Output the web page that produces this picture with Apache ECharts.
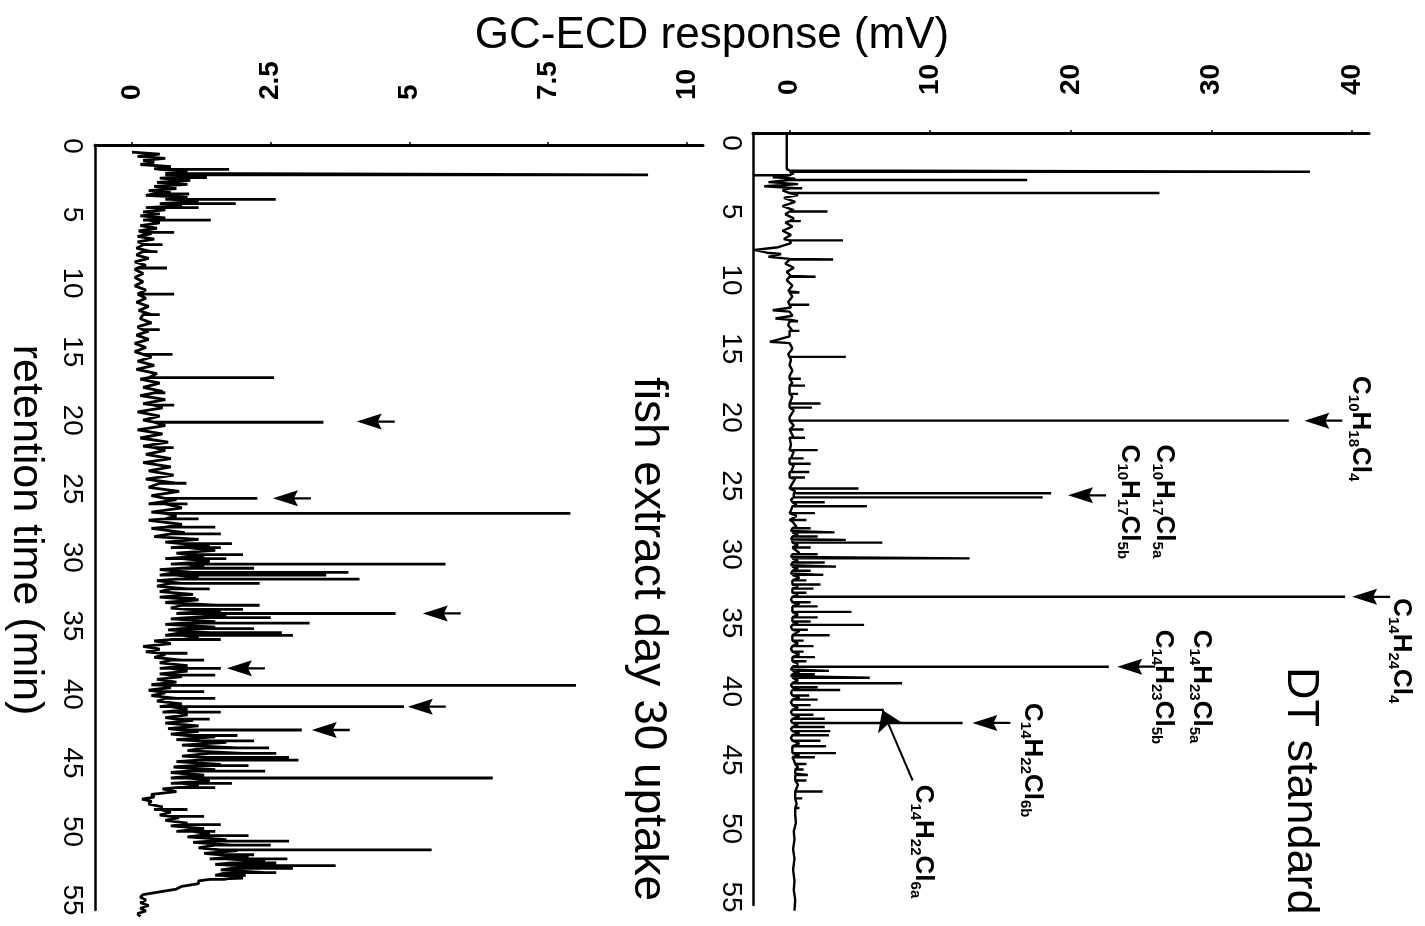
<!DOCTYPE html>
<html><head><meta charset="utf-8">
<script src="https://cdn.jsdelivr.net/npm/echarts@6/dist/echarts.min.js"></script>
<style>html,body{margin:0;padding:0;background:#fff}#c{width:1425px;height:926px}</style>
</head><body><div id="c"></div>
<script>
// ---------- data ----------
const timeTicks = [0, 5, 10, 15, 20, 25, 30, 35, 40, 45, 50, 55];
const dtTicks = [0, 10, 20, 30, 40];
const fishTicks = [0, 2.5, 5, 7.5, 10];

// DT standard: baseline [time, mV]
const dtBaseline = [
 [-0.7,-0.2],[1.9,-0.2],[2.0,0.0],[2.2,0.3],[2.5,-1.2],[2.6,0.4],[2.85,-1.5],[3.0,0.6],[3.15,-1.8],[3.3,0.5],[3.45,-0.5],
 [3.8,0.6],[4.0,-0.4],[4.3,0.4],[4.6,-0.5],[4.9,0.3],[5.2,-0.3],[5.5,0.3],[5.8,-0.3],[6.1,0.2],[6.4,-0.5],[6.7,0.1],
 [7.0,-0.4],[7.3,0.1],[7.6,-0.8],[7.8,-2.5],[8.0,-1.6],[8.1,-0.6],[8.3,-1.5],[8.45,0.0],[8.8,-0.3],[9.1,0.3],[9.4,-0.2],
 [9.7,0.1],[10.0,-0.2],[10.4,0.2],[10.8,-0.1],[11.2,0.2],[11.6,-0.1],[12.0,0.1],[12.2,-1.2],[12.3,0.0],[12.6,0.2],
 [12.8,-1.0],[12.9,0.1],[13.3,-0.1],[13.7,0.2],[14.1,0.0],[14.5,-1.4],[14.6,0.0],[15.0,0.2],[15.4,-0.1],[15.8,0.1],
 [16.2,0.0],[16.6,0.2],[17.0,0.0],[17.5,0.2],[18.0,0.0],[18.5,0.2],[19.0,0.0],[19.5,0.3],[20.0,0.0],[20.6,0.3],[21.0,0.0],
 [21.5,0.3],[22.0,0.1],[22.5,0.3],[23.0,0.1],[23.5,0.3],[24.0,0.1],[24.5,0.4],[25.0,0.1],[25.4,0.4],[26.0,0.1],[26.4,0.5],
 [26.8,0.1],[27.2,0.5],[27.6,0.2],[28.0,0.5],[28.3,0.1],[28.6,0.6],[28.9,0.1],[29.3,0.6],[29.6,0.1],[29.9,0.7],[30.2,0.1],
 [30.5,0.6],[30.8,0.1],[31.1,0.6],[31.4,0.1],[31.7,0.7],[32.0,0.1],[32.3,0.6],[32.6,0.1],[32.9,0.6],[33.3,0.1],[33.6,0.7],
 [33.9,0.1],[34.4,0.6],[34.7,0.1],[35.0,0.6],[35.3,0.1],[35.6,0.7],[36.0,0.1],[36.5,0.6],[36.9,0.1],[37.3,0.7],[37.6,0.1],
 [38.0,0.6],[38.4,0.1],[38.6,0.7],[38.9,0.1],[39.2,0.6],[39.55,0.1],[39.8,0.7],[40.1,0.1],[40.45,0.7],[40.8,0.1],[41.2,0.6],
 [41.5,0.1],[41.85,0.7],[42.15,0.1],[42.45,0.6],[42.75,0.1],[43.05,0.7],[43.4,0.1],[43.8,0.7],[44.2,0.2],[44.65,0.7],
 [45.0,0.3],[45.5,0.6],[46.0,0.4],[46.8,0.6],[47.5,0.4],[48.2,0.5],[49.0,0.4],[49.6,0.45],[50.2,0.3],[50.8,0.35],
 [51.5,0.25],[52.2,0.35],[53.0,0.25],[53.8,0.35],[54.5,0.3],[55.2,0.4],[56.0,0.35]
];
// DT standard: peaks [time, base mV, top mV]
const dtPeaks = [
 [2.1,0,37.0],[2.35,0,-2.6],[2.7,0,16.9],[3.3,0,0.9],[3.65,0,26.3],[5.0,0,2.7],[5.7,0,0.8],[7.1,0,3.8],[8.5,0,3.1],
 [9.75,0,1.85],[10.9,0,0.7],[11.8,0,1.4],[13.0,0,0.6],[13.7,0,0.7],[15.6,0,4.0],[17.2,0,0.8],[17.7,0,1.1],[18.3,0,0.6],
 [19.0,0,2.2],[19.3,0,1.6],[20.25,0,35.5],[20.9,0,1.0],[21.5,0,1.1],[22.4,0,2.0],[23.0,0,1.0],[23.4,0,1.5],[24.0,0,1.4],
 [24.4,0,1.1],[25.2,0,4.9],[25.55,0.3,18.6],[25.85,0.3,18.0],[26.2,0.2,2.5],[26.5,0.2,5.5],[27.0,0,1.8],[27.5,0,1.2],
 [28.1,0.2,1.5],[28.4,0.2,3.2],[28.7,0.2,2.0],[28.95,0.2,4.0],[29.15,0.2,6.6],[29.5,0.2,1.5],[30.0,0.2,2.0],[30.3,0.2,12.8],
 [30.6,0.2,2.5],[30.9,0.2,3.3],[31.2,0.2,1.5],[31.5,0.2,2.4],[31.9,0.2,1.2],[32.2,0.2,2.2],[32.5,0.2,1.7],[32.8,0.2,1.2],
 [33.1,0.2,39.5],[33.5,0.2,1.5],[33.8,0.2,2.0],[34.2,0.2,4.4],[34.6,0.2,2.0],[34.9,0.2,1.5],[35.15,0.2,5.3],[35.5,0.2,1.3],
 [35.9,0.2,2.85],[36.3,0.2,1.0],[36.7,0.2,1.7],[37.1,0.2,1.0],[37.5,0.2,1.8],[37.8,0.2,1.2],[38.2,0.2,22.7],[38.5,0.2,2.8],
 [38.75,0.2,1.8],[39.0,0.2,5.7],[39.4,0.2,8.0],[39.7,0.2,2.0],[39.9,0.2,3.6],[40.3,0.2,1.4],[40.6,0.2,2.0],[41.0,0.2,1.5],
 [41.35,0.2,6.7],[41.7,0.2,1.7],[42.0,0.2,2.5],[42.3,0.2,12.3],[42.6,0.2,2.5],[42.9,0.2,2.9],[43.2,0.2,2.8],[43.6,0.2,2.2],
 [44.0,0.2,2.6],[44.5,0.2,3.3],[44.8,0.2,1.8],[45.3,0.4,1.2],[45.7,0.4,1.0],[46.1,0.4,1.3],[46.5,0.4,1.2],[47.3,0.4,2.35],
 [47.8,0.4,0.9],[48.5,0.4,0.7]
];

// fish extract: baseline [time, mV]
const fishBaseline = [
 [0.45,0.0],[0.6,0.5],[0.75,0.1],[0.9,0.6],[1.05,0.2],[1.2,0.4],[1.35,0.15],[1.5,0.7],[1.65,0.4],[1.85,1.0],[2.0,0.6],
 [2.15,1.1],[2.35,0.5],[2.5,1.05],[2.65,0.45],[2.8,1.0],[2.95,0.4],[3.1,0.8],[3.25,0.3],[3.4,0.7],[3.6,0.25],[3.75,1.0],
 [3.9,0.6],[4.05,1.2],[4.2,0.5],[4.35,0.9],[4.5,0.25],[4.65,0.6],[4.8,0.2],[4.95,0.5],[5.1,0.15],[5.25,0.6],[5.4,0.2],
 [5.6,0.5],[5.8,0.15],[6.0,0.45],[6.2,0.12],[6.4,0.35],[6.6,0.1],[6.8,0.4],[7.0,0.1],[7.2,0.3],[7.45,0.08],[7.7,0.35],
 [7.95,0.08],[8.2,0.3],[8.45,0.05],[8.7,0.25],[9.0,0.05],[9.3,0.2],[9.6,0.05],[9.9,0.2],[10.2,0.05],[10.5,0.25],[10.8,0.1],
 [11.1,0.25],[11.4,0.08],[11.7,0.3],[12.0,0.12],[12.3,0.35],[12.6,0.15],[12.9,0.35],[13.2,0.1],[13.5,0.3],[13.8,0.08],
 [14.1,0.3],[14.4,0.05],[14.7,0.25],[15.0,0.05],[15.4,0.35],[15.7,0.1],[16.0,0.4],[16.3,0.08],[16.6,0.45],[17.0,0.15],
 [17.3,0.5],[17.6,0.2],[17.9,0.55],[18.2,0.15],[18.5,0.6],[18.8,0.2],[19.1,0.55],[19.4,0.1],[19.7,0.5],[20.0,0.2],[20.4,0.6],
 [20.7,0.1],[21.0,0.55],[21.3,0.15],[21.6,0.65],[21.9,0.2],[22.2,0.6],[22.5,0.25],[22.8,0.7],[23.1,0.2],[23.4,0.7],[23.7,0.3],
 [24.0,0.75],[24.3,0.25],[24.6,0.8],[24.9,0.3],[25.2,0.85],[25.5,0.35],[25.8,0.8],[26.1,0.3],[26.4,0.9],[26.7,0.35],[27.0,0.8],
 [27.3,0.3],[27.6,0.9],[27.9,0.35],[28.2,0.95],[28.5,0.4],[28.7,1.2],[28.9,0.6],[29.1,1.4],[29.3,0.7],[29.5,1.5],[29.7,0.8],
 [29.9,1.3],[30.1,0.6],[30.3,1.4],[30.5,0.7],[30.7,1.3],[30.9,0.5],[31.1,1.1],[31.3,0.5],[31.5,1.2],[31.7,0.45],[31.9,0.9],
 [32.1,0.45],[32.3,1.0],[32.5,0.5],[32.7,1.1],[32.9,0.5],[33.1,1.2],[33.3,0.6],[33.5,1.5],[33.7,0.7],[33.9,1.6],[34.1,0.8],
 [34.3,1.7],[34.5,0.7],[34.7,1.5],[34.9,0.6],[35.1,1.5],[35.3,0.65],[35.5,1.4],[35.7,0.6],[35.9,1.2],[36.1,0.4],[36.3,0.7],
 [36.5,0.2],[36.7,0.5],[36.9,0.25],[37.1,0.6],[37.3,0.4],[37.5,0.9],[37.7,0.5],[37.9,1.0],[38.1,0.5],[38.3,1.0],[38.5,0.5],
 [38.7,0.9],[38.9,0.45],[39.1,0.8],[39.3,0.35],[39.5,0.7],[39.7,0.3],[39.9,0.6],[40.1,0.35],[40.3,0.8],[40.5,0.45],[40.7,0.9],
 [40.9,0.5],[41.1,1.0],[41.3,0.55],[41.5,1.0],[41.7,0.6],[41.9,1.1],[42.1,0.6],[42.3,1.2],[42.5,0.65],[42.7,1.2],[42.9,0.7],
 [43.1,1.5],[43.3,0.8],[43.5,1.7],[43.7,0.9],[43.9,1.9],[44.1,1.0],[44.3,2.0],[44.5,0.9],[44.7,1.8],[44.9,0.8],[45.1,1.6],
 [45.3,0.75],[45.5,1.5],[45.7,0.7],[45.9,1.3],[46.1,0.7],[46.3,1.4],[46.5,0.7],[46.7,1.2],[46.9,0.55],[47.1,0.8],[47.3,0.35],
 [47.5,0.4],[47.65,0.18],[47.8,0.35],[48.0,0.3],[48.2,0.55],[48.4,0.4],[48.6,0.7],[48.8,0.5],[49.0,0.85],[49.2,0.6],[49.4,1.0],
 [49.6,0.7],[49.8,1.3],[50.0,0.8],[50.2,1.4],[50.4,1.0],[50.6,1.7],[50.8,1.1],[51.0,1.8],[51.2,1.2],[51.4,1.9],[51.6,1.3],
 [51.8,2.1],[52.0,1.4],[52.2,2.4],[52.4,1.5],[52.6,2.6],[52.8,1.6],[53.0,2.4],[53.2,1.5],[53.4,2.0],[53.6,1.2],[53.8,1.2],
 [54.0,0.9],[54.2,0.8],[54.4,0.5],[54.6,0.2],[54.8,0.15],[55.0,0.25],[55.2,0.15],[55.4,0.3],[55.6,0.15],[55.8,0.25],[56.0,0.1],[56.2,0.15]
];
// fish extract: peaks [time, base, top]
const fishPeaks = [
 [1.7,0.5,1.75],[2.1,0.6,9.3],[2.3,0.8,1.35],[3.5,0.4,1.03],[3.9,0.7,2.59],[4.2,0.6,1.87],[4.5,0.4,1.2],[5.4,0.3,1.42],
 [6.3,0.2,0.76],[7.2,0.2,0.55],[7.7,0.2,0.46],[8.9,0.1,0.63],[10.8,0.1,0.76],[12.3,0.2,0.5],[13.4,0.2,0.5],[15.2,0.2,0.73],
 [16.9,0.3,2.56],[18.0,0.4,0.6],[18.9,0.4,0.76],[20.15,0.4,3.45],[22.0,0.4,0.75],[24.6,0.5,0.98],[25.7,0.6,2.26],[26.1,0.6,1.0],
 [26.8,0.6,7.9],[27.2,0.6,1.2],[27.8,0.6,1.5],[28.3,0.7,1.6],[29.0,0.9,1.8],[29.3,1.0,1.6],[29.8,1.0,2.0],[30.1,0.9,1.7],
 [30.5,1.0,5.65],[30.8,0.9,2.2],[31.1,0.8,3.9],[31.3,0.8,3.5],[31.6,0.8,4.1],[31.9,0.7,2.3],[32.3,0.7,1.4],[33.0,0.8,1.15],
 [33.5,0.9,2.3],[33.8,1.0,2.0],[34.1,1.0,4.75],[34.4,1.0,2.5],[34.8,0.9,3.2],[35.2,0.9,2.2],[35.5,0.9,2.7],[35.7,0.9,2.9],
 [36.0,0.7,1.6],[37.0,0.5,1.0],[37.5,0.7,1.3],[38.1,0.7,1.6],[38.6,0.7,1.5],[39.35,0.6,8.0],[39.8,0.5,1.3],[40.3,0.6,1.5],
 [40.9,0.7,4.9],[41.3,0.8,1.6],[41.8,0.8,1.4],[42.6,0.9,3.06],[43.0,1.0,1.9],[43.4,1.2,2.2],[43.9,1.3,2.47],[44.3,1.4,2.6],
 [44.6,1.3,2.83],[44.8,1.2,3.0],[45.2,1.1,2.1],[45.6,1.0,2.4],[46.1,1.0,6.5],[46.5,0.9,1.8],[46.8,0.8,1.5],[48.4,0.5,1.0],
 [48.9,0.7,1.3],[49.5,0.9,1.6],[50.0,1.1,1.5],[50.3,1.2,2.1],[50.7,1.4,2.83],[51.0,1.5,2.5],[51.35,1.6,5.4],[51.7,1.6,2.2],
 [52.0,1.7,2.8],[52.3,1.8,2.6],[52.5,1.9,3.67],[52.7,1.8,2.9],[53.0,1.7,2.6],[53.2,1.6,2.05],[53.5,1.4,1.7]
];

// annotations: [label, mV, time]
const dtLabels = [
 ['{m|C}{s|10}{m|H}{s|18}{m|Cl}{s|4}', 40.5, 17.0],
 ['{m|C}{s|10}{m|H}{s|17}{m|Cl}{s|5a}', 26.6, 22.0],
 ['{m|C}{s|10}{m|H}{s|17}{m|Cl}{s|5b}', 24.1, 22.0],
 ['{m|C}{s|14}{m|H}{s|24}{m|Cl}{s|4}', 43.4, 33.2],
 ['{m|C}{s|14}{m|H}{s|23}{m|Cl}{s|5a}', 29.2, 35.5],
 ['{m|C}{s|14}{m|H}{s|23}{m|Cl}{s|5b}', 26.5, 35.5],
 ['{m|C}{s|14}{m|H}{s|22}{m|Cl}{s|6b}', 17.2, 40.85],
 ['{m|C}{s|14}{m|H}{s|22}{m|Cl}{s|6a}', 9.4, 46.8]
];
const dtArrows = [[36.6,20.25],[19.8,25.7],[40.0,33.1],[23.3,38.2],[13.0,42.3]];
const fishArrows = [[4.05,20.1],[2.54,25.7],[5.24,34.1],[1.71,38.1],[4.97,40.9],[3.24,42.6]];
const dtPointer = [[8.75,46.5],[6.6,41.35]];

// ---------- chart ----------
function buildTrace(base, peaks) {
  const items = [];
  base.forEach(p => items.push({ t: p[0], pts: [[p[1], p[0]]] }));
  peaks.forEach(p => items.push({ t: p[0], pts: [[p[1], p[0]], [p[2], p[0]], [p[1], p[0]]] }));
  items.sort((a, b) => a.t - b.t);
  return items.flatMap(i => i.pts);
}
const FONT = '"Liberation Sans", Arial, sans-serif';
const arrowPath = 'path://M0,7 L25,0 L21,7 L25,14 Z M21,6 L38,6 L38,8 L21,8 Z';

function valueAxis(grid, min, max, ticks, margin) {
  return {
    gridIndex: grid, type: 'value', position: 'top', min: min, max: max,
    axisLine: { show: true, onZero: false, lineStyle: { color: '#000', width: 3 } },
    axisTick: { show: true, customValues: ticks, length: 3, lineStyle: { color: '#000', width: 1.5 } },
    axisLabel: { customValues: ticks, rotate: -90, align: 'left', verticalAlign: 'middle', margin: margin,
      fontSize: 28, fontWeight: 'bold', color: '#000', fontFamily: FONT },
    splitLine: { show: false }
  };
}
function timeAxis(grid, min, max, margin) {
  return {
    gridIndex: grid, type: 'value', inverse: true, min: min, max: max,
    axisLine: { show: true, onZero: false, lineStyle: { color: '#000', width: 2.5 } },
    axisTick: { show: false },
    axisLabel: { customValues: timeTicks, rotate: -90, align: 'center', verticalAlign: 'top', margin: margin,
      fontSize: 28, color: '#000', fontFamily: FONT },
    splitLine: { show: false }
  };
}

const chart = echarts.init(document.getElementById('c'), null, { renderer: 'canvas' });
chart.setOption({
  animation: false,
  backgroundColor: '#fff',
  grid: [
    { left: 753, top: 133, width: 616, height: 772 },
    { left: 95, top: 145, width: 608, height: 765 }
  ],
  xAxis: [valueAxis(0, -2.6, 41.2, dtTicks, 38), valueAxis(1, -0.667, 10.29, fishTicks, 45)],
  yAxis: [timeAxis(0, -0.73, 55.58, 8), timeAxis(1, -0.073, 55.73, 9)],
  graphic: [
    { type: 'text', x: 712, y: 36, style: { text: 'GC-ECD response (mV)', fontSize: 44, fontFamily: FONT, fill: '#000', align: 'center', verticalAlign: 'middle' } },
    { type: 'text', x: 26, y: 530, rotation: -Math.PI / 2, style: { text: 'retention time (min)', fontSize: 43, fontFamily: FONT, fill: '#000', align: 'center', verticalAlign: 'middle' } },
    { type: 'text', x: 1300, y: 667, rotation: -Math.PI / 2, style: { text: 'DT standard', fontSize: 45, fontFamily: FONT, fill: '#000', align: 'left', verticalAlign: 'middle' } },
    { type: 'text', x: 648, y: 377, rotation: -Math.PI / 2, style: { text: 'fish extract day 30 uptake', fontSize: 46, fontFamily: FONT, fill: '#000', align: 'left', verticalAlign: 'middle' } }
  ],
  series: [
    { type: 'line', xAxisIndex: 0, yAxisIndex: 0, data: buildTrace(dtBaseline, dtPeaks), showSymbol: false, clip: false,
      lineStyle: { color: '#000', width: 2.4 }, silent: true },
    { type: 'line', xAxisIndex: 1, yAxisIndex: 1, data: buildTrace(fishBaseline, fishPeaks), showSymbol: false, clip: false,
      lineStyle: { color: '#000', width: 2.8 }, silent: true },
    { type: 'scatter', xAxisIndex: 0, yAxisIndex: 0, clip: false, symbol: arrowPath, symbolSize: [38, 16], symbolOffset: ['50%', 0],
      itemStyle: { color: '#000', opacity: 1 }, data: dtArrows, silent: true },
    { type: 'scatter', xAxisIndex: 1, yAxisIndex: 1, clip: false, symbol: arrowPath, symbolSize: [38, 16], symbolOffset: ['50%', 0],
      itemStyle: { color: '#000', opacity: 1 }, data: fishArrows, silent: true },
    { type: 'lines', coordinateSystem: 'cartesian2d', xAxisIndex: 0, yAxisIndex: 0, symbol: ['none', 'arrow'], symbolSize: 20,
      lineStyle: { color: '#000', width: 2, opacity: 1 }, data: [{ coords: dtPointer }], silent: true },
    { type: 'scatter', xAxisIndex: 0, yAxisIndex: 0, clip: false, symbolSize: 2, itemStyle: { color: 'rgba(0,0,0,0)', opacity: 1 }, silent: true,
      data: dtLabels.map(l => ({ value: [l[1], l[2]], label: { show: true, formatter: l[0] } })),
      label: { show: true, position: 'inside', rotate: -90, align: 'left', verticalAlign: 'middle', color: '#000', opacity: 1,
        rich: {
          m: { fontSize: 26, fontWeight: 'bold', fontFamily: FONT, color: '#000', padding: [0, 0, 2, 0] },
          s: { fontSize: 15, fontWeight: 'bold', fontFamily: FONT, color: '#000', verticalAlign: 'bottom' }
        } } }
  ]
});
</script></body></html>
